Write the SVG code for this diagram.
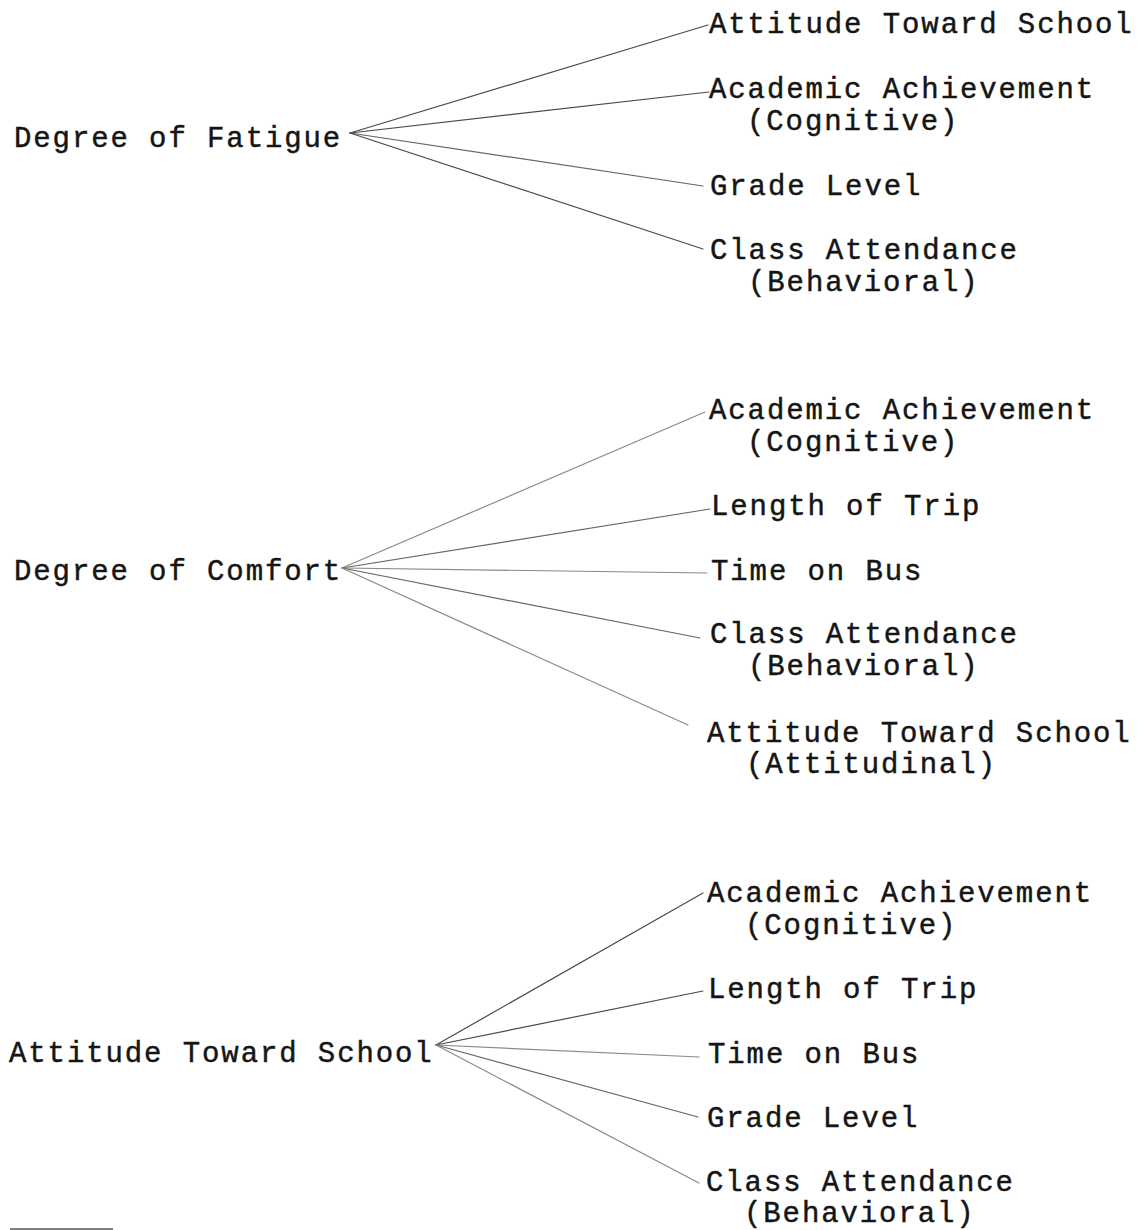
<svg xmlns="http://www.w3.org/2000/svg" width="1139" height="1230" viewBox="0 0 1139 1230">
<style>
text{font-family:"Liberation Mono","DejaVu Sans Mono",monospace;font-size:29px;letter-spacing:1.9px;fill:#151515;stroke:#151515;stroke-width:0.45;}
.c line{stroke:#666;stroke-width:1.2;fill:none;stroke-linecap:round;}
.c .l{stroke:#8a8a8a;}
.c .d{stroke:#4a4a4a;}
</style>
<rect width="1139" height="1230" fill="#fff"/>
<g id="connectors" class="c">
  <line class="d" x1="350" y1="133" x2="708" y2="25"/>
  <line class="d" x1="350" y1="133" x2="709" y2="92"/>
  <line x1="350" y1="133" x2="703" y2="186"/>
  <line class="d" x1="350" y1="133" x2="703" y2="249"/>
  <line class="l" x1="342" y1="568" x2="705" y2="412"/>
  <line x1="342" y1="568" x2="710" y2="509"/>
  <line class="l" x1="342" y1="568" x2="707" y2="573"/>
  <line x1="342" y1="568" x2="700" y2="638"/>
  <line class="l" x1="342" y1="568" x2="688" y2="725"/>
  <line class="d" x1="436" y1="1045" x2="703" y2="893"/>
  <line class="d" x1="436" y1="1045" x2="703" y2="991"/>
  <line class="l" x1="436" y1="1045" x2="699" y2="1057"/>
  <line x1="436" y1="1045" x2="698" y2="1117"/>
  <line class="l" x1="436" y1="1045" x2="699" y2="1183"/>
</g>
<g id="fatigue"><text x="14" y="147">Degree of Fatigue</text></g>
<g id="f-attitude"><text x="709" y="33">Attitude Toward School</text></g>
<g id="f-academic"><text x="709" y="98">Academic Achievement</text><text x="747" y="130">(Cognitive)</text></g>
<g id="f-grade"><text x="710" y="195">Grade Level</text></g>
<g id="f-class"><text x="710" y="259">Class Attendance</text><text x="748" y="291">(Behavioral)</text></g>
<g id="comfort"><text x="14" y="580">Degree of Comfort</text></g>
<g id="c-academic"><text x="709" y="419">Academic Achievement</text><text x="747" y="451">(Cognitive)</text></g>
<g id="c-length"><text x="711" y="515">Length of Trip</text></g>
<g id="c-time"><text x="711" y="580">Time on Bus</text></g>
<g id="c-class"><text x="710" y="643">Class Attendance</text><text x="748" y="675">(Behavioral)</text></g>
<g id="c-attitude"><text x="707" y="742">Attitude Toward School</text><text x="746" y="773">(Attitudinal)</text></g>
<g id="attitude"><text x="9" y="1062">Attitude Toward School</text></g>
<g id="a-academic"><text x="707" y="902">Academic Achievement</text><text x="745" y="934">(Cognitive)</text></g>
<g id="a-length"><text x="708" y="998">Length of Trip</text></g>
<g id="a-time"><text x="708" y="1063">Time on Bus</text></g>
<g id="a-grade"><text x="707" y="1127">Grade Level</text></g>
<g id="a-class"><text x="706" y="1191">Class Attendance</text><text x="744" y="1222">(Behavioral)</text></g>
<line x1="10" y1="1229" x2="113" y2="1229" stroke="#555" stroke-width="1.5"/>
</svg>
